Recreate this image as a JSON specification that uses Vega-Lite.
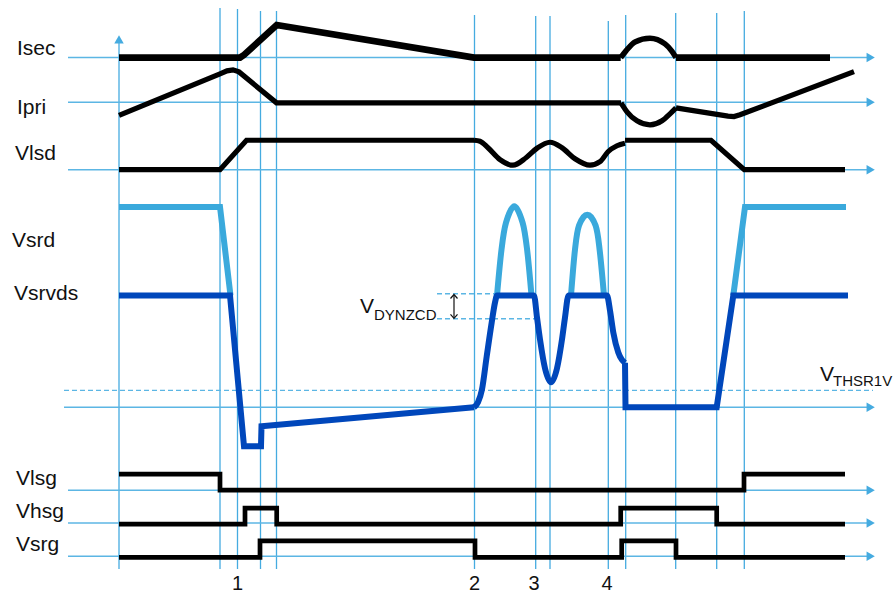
{
  "$schema": "https://vega.github.io/schema/vega-lite/v6.json",
  "width": 894,
  "height": 594,
  "autosize": {"type": "fit", "contains": "padding"},
  "padding": 0,
  "background": "white",
  "config": {"view": {"stroke": null}},
  "datasets": {
    "vgrid": [
      {"x": 119, "y": 43, "y2": 570}, {"x": 220, "y": 8, "y2": 570}, {"x": 237.5, "y": 9, "y2": 570},
      {"x": 260.5, "y": 11, "y2": 570}, {"x": 276.5, "y": 11, "y2": 570}, {"x": 474.5, "y": 15, "y2": 570},
      {"x": 535.7, "y": 16, "y2": 570}, {"x": 550, "y": 16, "y2": 570}, {"x": 608.3, "y": 21, "y2": 570},
      {"x": 625.7, "y": 15, "y2": 570}, {"x": 675.7, "y": 13, "y2": 570}, {"x": 716.7, "y": 13, "y2": 570},
      {"x": 744.3, "y": 11, "y2": 570}
    ],
    "hgrid": [
      {"x": 68, "x2": 868, "y": 57.7}, {"x": 68, "x2": 868, "y": 102.5}, {"x": 68, "x2": 868, "y": 170},
      {"x": 64, "x2": 868, "y": 408}, {"x": 68, "x2": 868, "y": 491}, {"x": 68, "x2": 868, "y": 524},
      {"x": 68, "x2": 868, "y": 557.3}
    ],
    "hdash": [
      {"x": 64, "x2": 873, "y": 391}, {"x": 437, "x2": 536, "y": 294.3}, {"x": 437, "x2": 536, "y": 319.3}
    ],
    "arrows": [
      {"x": 870.7, "y": 57.7, "dir": "right"}, {"x": 870.7, "y": 102.5, "dir": "right"},
      {"x": 870.7, "y": 170, "dir": "right"}, {"x": 870.7, "y": 408, "dir": "right"},
      {"x": 870.7, "y": 491, "dir": "right"}, {"x": 870.7, "y": 524, "dir": "right"},
      {"x": 870.7, "y": 557.3, "dir": "right"}, {"x": 119, "y": 39.5, "dir": "up"}
    ],
    "sig": [
      {"id": "Isec-1", "x": 119, "y": 57.7}, {"id": "Isec-1", "x": 240, "y": 57.7}, {"id": "Isec-1", "x": 244, "y": 55},
      {"id": "Isec-1", "x": 276.7, "y": 25}, {"id": "Isec-1", "x": 474, "y": 57.7}, {"id": "Isec-1", "x": 620.7, "y": 57.7},
      {"id": "Isec-2", "x": 620.7, "y": 57.7}, {"id": "Isec-2", "x": 626, "y": 51}, {"id": "Isec-2", "x": 635, "y": 42},
      {"id": "Isec-2", "x": 650, "y": 38.3}, {"id": "Isec-2", "x": 665, "y": 44}, {"id": "Isec-2", "x": 672, "y": 51.5},
      {"id": "Isec-2", "x": 676, "y": 57.7},
      {"id": "Isec-3", "x": 676, "y": 57.7}, {"id": "Isec-3", "x": 830, "y": 57.7},
      {"id": "Ipri-1", "x": 119, "y": 115.5}, {"id": "Ipri-1", "x": 220, "y": 74}, {"id": "Ipri-1", "x": 227, "y": 71},
      {"id": "Ipri-1", "x": 233, "y": 70}, {"id": "Ipri-1", "x": 239, "y": 72}, {"id": "Ipri-1", "x": 276.5, "y": 103},
      {"id": "Ipri-1", "x": 621, "y": 103},
      {"id": "Ipri-2", "x": 621, "y": 103}, {"id": "Ipri-2", "x": 627, "y": 112}, {"id": "Ipri-2", "x": 637, "y": 121},
      {"id": "Ipri-2", "x": 650, "y": 125}, {"id": "Ipri-2", "x": 662, "y": 121}, {"id": "Ipri-2", "x": 670, "y": 114},
      {"id": "Ipri-2", "x": 676, "y": 108},
      {"id": "Ipri-3", "x": 676, "y": 108}, {"id": "Ipri-3", "x": 728, "y": 116.3}, {"id": "Ipri-3", "x": 734, "y": 116.8},
      {"id": "Ipri-3", "x": 740, "y": 115}, {"id": "Ipri-3", "x": 854, "y": 71.7},
      {"id": "Vlsd-1", "x": 119, "y": 170}, {"id": "Vlsd-1", "x": 220, "y": 170}, {"id": "Vlsd-1", "x": 246.5, "y": 140.5},
      {"id": "Vlsd-1", "x": 474, "y": 140.5},
      {"id": "Vlsd-2", "x": 474, "y": 140.5}, {"id": "Vlsd-2", "x": 480, "y": 141.5}, {"id": "Vlsd-2", "x": 488, "y": 148},
      {"id": "Vlsd-2", "x": 500, "y": 160}, {"id": "Vlsd-2", "x": 513, "y": 165.5}, {"id": "Vlsd-2", "x": 526, "y": 158},
      {"id": "Vlsd-2", "x": 537, "y": 148.5}, {"id": "Vlsd-2", "x": 550, "y": 142.5}, {"id": "Vlsd-2", "x": 562, "y": 148},
      {"id": "Vlsd-2", "x": 575, "y": 159}, {"id": "Vlsd-2", "x": 590, "y": 165.5}, {"id": "Vlsd-2", "x": 600, "y": 162},
      {"id": "Vlsd-2", "x": 608, "y": 152}, {"id": "Vlsd-2", "x": 617, "y": 146}, {"id": "Vlsd-2", "x": 625, "y": 143.5},
      {"id": "Vlsd-3", "x": 625, "y": 140.5}, {"id": "Vlsd-3", "x": 711, "y": 140.5}, {"id": "Vlsd-3", "x": 744.3, "y": 170},
      {"id": "Vlsd-3", "x": 845, "y": 170},
      {"id": "Vlsg", "x": 119, "y": 475}, {"id": "Vlsg", "x": 220, "y": 491}, {"id": "Vlsg", "x": 744, "y": 475},
      {"id": "Vlsg", "x": 845, "y": 475},
      {"id": "Vhsg", "x": 119, "y": 525}, {"id": "Vhsg", "x": 245, "y": 509}, {"id": "Vhsg", "x": 276.7, "y": 525},
      {"id": "Vhsg", "x": 620.7, "y": 509}, {"id": "Vhsg", "x": 716.7, "y": 525}, {"id": "Vhsg", "x": 845, "y": 525},
      {"id": "Vsrg", "x": 119, "y": 558.3}, {"id": "Vsrg", "x": 260, "y": 541.7}, {"id": "Vsrg", "x": 475, "y": 558.3},
      {"id": "Vsrg", "x": 621.7, "y": 541.7}, {"id": "Vsrg", "x": 676, "y": 558.3}, {"id": "Vsrg", "x": 845, "y": 558.3},
      {"id": "Vsrd-1", "x": 119, "y": 207.3}, {"id": "Vsrd-1", "x": 220, "y": 207.3}, {"id": "Vsrd-1", "x": 230.5, "y": 296},
      {"id": "Vsrd-2", "x": 497, "y": 296}, {"id": "Vsrd-2", "x": 501.5, "y": 250}, {"id": "Vsrd-2", "x": 506, "y": 223},
      {"id": "Vsrd-2", "x": 514.3, "y": 206.5}, {"id": "Vsrd-2", "x": 522.6, "y": 223},
      {"id": "Vsrd-2", "x": 527.1, "y": 250}, {"id": "Vsrd-2", "x": 531.5, "y": 296},
      {"id": "Vsrd-3", "x": 571, "y": 296}, {"id": "Vsrd-3", "x": 575, "y": 250}, {"id": "Vsrd-3", "x": 579, "y": 226},
      {"id": "Vsrd-3", "x": 587.3, "y": 215}, {"id": "Vsrd-3", "x": 595.6, "y": 226},
      {"id": "Vsrd-3", "x": 599.6, "y": 250}, {"id": "Vsrd-3", "x": 604, "y": 296},
      {"id": "Vsrd-4", "x": 733.3, "y": 296}, {"id": "Vsrd-4", "x": 745, "y": 207.3}, {"id": "Vsrd-4", "x": 846, "y": 207.3},
      {"id": "Vsrvds-1", "x": 119, "y": 296}, {"id": "Vsrvds-1", "x": 230, "y": 296}, {"id": "Vsrvds-1", "x": 244, "y": 447},
      {"id": "Vsrvds-1", "x": 261, "y": 447}, {"id": "Vsrvds-1", "x": 261.5, "y": 427}, {"id": "Vsrvds-1", "x": 474, "y": 408},
      {"id": "Vsrvds-2", "x": 474, "y": 408}, {"id": "Vsrvds-2", "x": 478, "y": 403}, {"id": "Vsrvds-2", "x": 482, "y": 390},
      {"id": "Vsrvds-2", "x": 486.7, "y": 357}, {"id": "Vsrvds-2", "x": 491.7, "y": 323}, {"id": "Vsrvds-2", "x": 495, "y": 303},
      {"id": "Vsrvds-2", "x": 497, "y": 296}, {"id": "Vsrvds-2", "x": 534, "y": 296}, {"id": "Vsrvds-2", "x": 537, "y": 318},
      {"id": "Vsrvds-2", "x": 540, "y": 340}, {"id": "Vsrvds-2", "x": 545, "y": 369}, {"id": "Vsrvds-2", "x": 551, "y": 383},
      {"id": "Vsrvds-2", "x": 557, "y": 369}, {"id": "Vsrvds-2", "x": 562, "y": 340}, {"id": "Vsrvds-2", "x": 565, "y": 318},
      {"id": "Vsrvds-2", "x": 568.5, "y": 296}, {"id": "Vsrvds-2", "x": 607, "y": 296}, {"id": "Vsrvds-2", "x": 610, "y": 311},
      {"id": "Vsrvds-2", "x": 613.3, "y": 333}, {"id": "Vsrvds-2", "x": 618.3, "y": 353}, {"id": "Vsrvds-2", "x": 622, "y": 360.5},
      {"id": "Vsrvds-2", "x": 625, "y": 363.5},
      {"id": "Vsrvds-3", "x": 625, "y": 363.5}, {"id": "Vsrvds-3", "x": 625.5, "y": 408}, {"id": "Vsrvds-3", "x": 716.7, "y": 408},
      {"id": "Vsrvds-3", "x": 733.3, "y": 296}, {"id": "Vsrvds-3", "x": 848, "y": 296},
      {"id": "dbl-stem", "x": 454, "y": 295.5}, {"id": "dbl-stem", "x": 454.01, "y": 318.5},
      {"id": "dbl-up", "x": 450.5, "y": 299}, {"id": "dbl-up", "x": 454, "y": 295}, {"id": "dbl-up", "x": 457.5, "y": 299},
      {"id": "dbl-down", "x": 450.5, "y": 315}, {"id": "dbl-down", "x": 454, "y": 319}, {"id": "dbl-down", "x": 457.5, "y": 315}
    ],
    "labels": [
      {"t": "Isec", "x": 17, "y": 55}, {"t": "Ipri", "x": 17, "y": 114}, {"t": "Vlsd", "x": 15, "y": 160},
      {"t": "Vsrd", "x": 12, "y": 247}, {"t": "Vsrvds", "x": 14, "y": 301}, {"t": "Vlsg", "x": 16, "y": 486},
      {"t": "Vhsg", "x": 16, "y": 518.5}, {"t": "Vsrg", "x": 16, "y": 552}
    ],
    "nums": [
      {"t": "1", "x": 237.5, "y": 591}, {"t": "2", "x": 474.5, "y": 591}, {"t": "3", "x": 534, "y": 591}, {"t": "4", "x": 607, "y": 591}
    ],
    "vmain": [{"t": "V", "x": 360, "y": 314}, {"t": "V", "x": 820, "y": 382}],
    "vsub": [{"t": "DYNZCD", "x": 374, "y": 320.5}, {"t": "THSR1V", "x": 833, "y": 387}]
  },
  "encoding": {
    "x": {"field": "x", "type": "quantitative", "scale": {"domain": [0, 894], "nice": false, "zero": false}, "axis": null},
    "y": {"field": "y", "type": "quantitative", "scale": {"domain": [0, 594], "reverse": true, "nice": false, "zero": false}, "axis": null}
  },
  "layer": [
    {"data": {"name": "vgrid"}, "mark": {"type": "rule", "color": "#45abe0", "strokeWidth": 1.3}, "encoding": {"y2": {"field": "y2"}}},
    {"data": {"name": "hgrid"}, "mark": {"type": "rule", "color": "#5cb6e4", "strokeWidth": 1.5}, "encoding": {"x2": {"field": "x2"}}},
    {"data": {"name": "hdash"}, "mark": {"type": "rule", "color": "#5cb6e4", "strokeWidth": 1.4, "strokeDash": [5, 3]}, "encoding": {"x2": {"field": "x2"}}},
    {"data": {"name": "arrows"}, "mark": {"type": "point", "filled": true, "opacity": 1, "color": "#45abe0", "size": 90},
     "encoding": {"shape": {"field": "dir", "type": "nominal", "scale": {"domain": ["right", "up"], "range": ["triangle-right", "triangle-up"]}, "legend": null}}},
    {"data": {"name": "sig"}, "transform": [{"filter": {"field": "id", "oneOf": ["Isec-1", "Isec-3", "Ipri-1", "Ipri-3", "Vlsd-1", "Vlsd-3"]}}],
     "mark": {"type": "line", "color": "#000000", "interpolate": "linear"},
     "encoding": {"detail": {"field": "id"}, "strokeWidth": {"condition": {"test": "indexof(datum.id, 'Isec') == 0", "value": 6.6}, "value": 5.2}}},
    {"data": {"name": "sig"}, "transform": [{"filter": {"field": "id", "oneOf": ["Isec-2", "Ipri-2", "Vlsd-2"]}}],
     "mark": {"type": "line", "color": "#000000", "interpolate": "monotone"},
     "encoding": {"detail": {"field": "id"}, "strokeWidth": {"condition": {"test": "indexof(datum.id, 'Isec') == 0", "value": 5.5}, "value": 5.2}}},
    {"data": {"name": "sig"}, "transform": [{"filter": {"field": "id", "oneOf": ["Vlsg", "Vhsg", "Vsrg"]}}],
     "mark": {"type": "line", "color": "#000000", "interpolate": "step-after", "strokeWidth": 4.7},
     "encoding": {"detail": {"field": "id"}}},
    {"data": {"name": "sig"}, "transform": [{"filter": {"field": "id", "oneOf": ["Vsrd-1", "Vsrd-4"]}}],
     "mark": {"type": "line", "color": "#3aa9dc", "interpolate": "linear", "strokeWidth": 6},
     "encoding": {"detail": {"field": "id"}}},
    {"data": {"name": "sig"}, "transform": [{"filter": {"field": "id", "oneOf": ["Vsrd-2", "Vsrd-3"]}}],
     "mark": {"type": "line", "color": "#3aa9dc", "interpolate": "cardinal", "strokeWidth": 6},
     "encoding": {"detail": {"field": "id"}}},
    {"data": {"name": "sig"}, "transform": [{"filter": {"field": "id", "oneOf": ["Vsrvds-1", "Vsrvds-3"]}}],
     "mark": {"type": "line", "color": "#0047bb", "interpolate": "linear", "strokeWidth": 6},
     "encoding": {"detail": {"field": "id"}}},
    {"data": {"name": "sig"}, "transform": [{"filter": {"field": "id", "oneOf": ["Vsrvds-2"]}}],
     "mark": {"type": "line", "color": "#0047bb", "interpolate": "monotone", "strokeWidth": 6},
     "encoding": {"detail": {"field": "id"}}},
    {"data": {"name": "sig"}, "transform": [{"filter": {"field": "id", "oneOf": ["dbl-stem", "dbl-up", "dbl-down"]}}],
     "mark": {"type": "line", "color": "#111111", "interpolate": "linear", "strokeWidth": 1.2},
     "encoding": {"detail": {"field": "id"}}},
    {"data": {"name": "labels"}, "mark": {"type": "text", "align": "left", "baseline": "alphabetic", "font": "Liberation Sans", "fontSize": 21, "color": "#111111"},
     "encoding": {"text": {"field": "t"}}},
    {"data": {"name": "nums"}, "mark": {"type": "text", "align": "center", "baseline": "alphabetic", "font": "Liberation Sans", "fontSize": 20, "color": "#111111"},
     "encoding": {"text": {"field": "t"}}},
    {"data": {"name": "vmain"}, "mark": {"type": "text", "align": "left", "baseline": "alphabetic", "font": "Liberation Sans", "fontSize": 21, "color": "#111111"},
     "encoding": {"text": {"field": "t"}}},
    {"data": {"name": "vsub"}, "mark": {"type": "text", "align": "left", "baseline": "alphabetic", "font": "Liberation Sans", "fontSize": 15, "color": "#111111"},
     "encoding": {"text": {"field": "t"}}}
  ]
}
